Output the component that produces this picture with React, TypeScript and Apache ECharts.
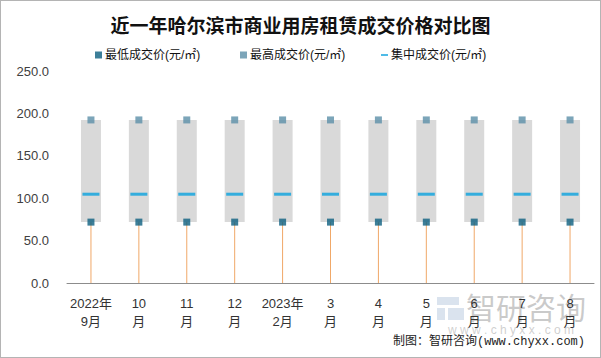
import React, { useEffect, useRef } from "react";
import * as echarts from "echarts";

const categories = ["2022年\n9月", "10\n月", "11\n月", "12\n月", "2023年\n2月", "3\n月", "4\n月", "5\n月", "6\n月", "7\n月", "8\n月"];
const minPrice = [71.8, 71.8, 71.8, 71.8, 71.8, 71.8, 71.8, 71.8, 71.8, 71.8, 71.8];
const maxPrice = [192.3, 192.3, 192.3, 192.3, 192.3, 192.3, 192.3, 192.3, 192.3, 192.3, 192.3];
const midPrice = [104.7, 104.7, 104.7, 104.7, 104.7, 104.7, 104.7, 104.7, 104.7, 104.7, 104.7];
const yTicks = [0, 50, 100, 150, 200, 250];

const NAME_MIN = "最低成交价(元/㎡)";
const NAME_MAX = "最高成交价(元/㎡)";
const NAME_MID = "集中成交价(元/㎡)";

const SANS = "'Liberation Sans', 'Noto Sans CJK SC', sans-serif";

export default function App() {
  const ref = useRef<HTMLDivElement>(null);
  useEffect(() => {
    if (!ref.current) return;
    const chart = echarts.init(ref.current, null, { renderer: "svg" });
    const rangeData = categories.map((_, i) => [i, minPrice[i], maxPrice[i]]);
    const legendBase = {
      top: 43,
      itemWidth: 7,
      itemHeight: 7,
      textStyle: { fontSize: 12, color: "#111", fontFamily: SANS, padding: [0, 0, 0, -2] },
    };
    chart.setOption({
      animation: false,
      backgroundColor: "#ffffff",
      title: {
        text: "近一年哈尔滨市商业用房租赁成交价格对比图",
        left: "center",
        top: 9,
        textStyle: { fontSize: 19, fontWeight: "bold", color: "#111", fontFamily: "'Noto Sans CJK SC', sans-serif" },
      },
      legend: [
        { ...legendBase, left: 89, data: [{ name: NAME_MIN, icon: "rect" }] },
        { ...legendBase, left: 234, data: [{ name: NAME_MAX, icon: "rect" }] },
        { ...legendBase, left: 375, data: [{ name: NAME_MID, icon: "path://M0,0H35V9H0Z" }] },
      ],
      grid: { left: 66, right: 6, top: 70, height: 212, containLabel: false },
      xAxis: {
        type: "category",
        data: categories,
        axisLine: { show: true, lineStyle: { color: "#8c8c8c", width: 1 } },
        axisTick: { show: false },
        axisLabel: { color: "#333", fontSize: 13, lineHeight: 18, margin: 11, fontFamily: SANS, interval: 0 },
      },
      yAxis: {
        type: "value",
        min: yTicks[0],
        max: yTicks[yTicks.length - 1],
        interval: 50,
        axisLine: { show: false },
        axisTick: { show: false },
        splitLine: { show: false },
        axisLabel: {
          color: "#404040",
          fontSize: 13,
          margin: 18,
          fontFamily: SANS,
          formatter: (v: number) => v.toFixed(1),
        },
      },
      series: [
        {
          type: "custom",
          name: "range",
          data: rangeData,
          encode: { x: 0, y: [1, 2] },
          z: 1,
          renderItem: (params: any, api: any) => {
            const idx = api.value(0);
            const lo = api.coord([idx, api.value(1)]);
            const hi = api.coord([idx, api.value(2)]);
            const base = api.coord([idx, 0]);
            const w = 20;
            return {
              type: "group",
              children: [
                {
                  type: "line",
                  shape: { x1: base[0], y1: base[1], x2: lo[0], y2: lo[1] },
                  style: { stroke: "#f0a868", lineWidth: 1 },
                },
                {
                  type: "rect",
                  shape: { x: hi[0] - w / 2, y: hi[1], width: w, height: lo[1] - hi[1] },
                  style: { fill: "#d9d9d9" },
                },
              ],
            };
          },
        },
        {
          type: "scatter",
          name: NAME_MIN,
          data: minPrice,
          symbol: "rect",
          symbolSize: 7,
          itemStyle: { color: "#0c5f80" },
          z: 3,
        },
        {
          type: "scatter",
          name: NAME_MAX,
          data: maxPrice,
          symbol: "rect",
          symbolSize: 7,
          itemStyle: { color: "#5b8ea8" },
          z: 3,
        },
        {
          type: "scatter",
          name: NAME_MID,
          data: midPrice,
          symbol: "rect",
          symbolSize: [17, 3],
          itemStyle: { color: "#0aa1dd" },
          z: 3,
        },
      ],
      graphic: [
        {
          type: "rect",
          left: 436,
          top: 296,
          z: 0,
          shape: { width: 22, height: 8 },
          style: { fill: "rgba(150,175,205,0.35)" },
        },
        {
          type: "rect",
          left: 436,
          top: 307,
          z: 0,
          shape: { width: 8, height: 12 },
          style: { fill: "rgba(150,175,205,0.35)" },
        },
        {
          type: "rect",
          left: 447,
          top: 307,
          z: 0,
          shape: { width: 16, height: 12 },
          style: { fill: "rgba(150,175,205,0.35)" },
        },
        {
          type: "text",
          left: 465,
          top: 290,
          z: 0,
          style: { text: "智研咨询", fontSize: 30, fill: "rgba(150,150,150,0.5)", fontFamily: "'Noto Sans CJK SC', sans-serif" },
        },
        {
          type: "text",
          left: 447,
          top: 323,
          z: 0,
          style: { text: "w w w . c h y x x . c o m", fontSize: 12, fill: "rgba(160,160,160,0.5)", fontFamily: SANS },
        },
        {
          type: "text",
          right: 15,
          top: 335,
          style: {
            text: "制图：智研咨询(www.chyxx.com)",
            fontSize: 12,
            fill: "#222",
            fontFamily: "'Liberation Mono', 'Noto Sans CJK SC', monospace",
          },
        },
      ],
    });
    return () => chart.dispose();
  }, []);
  return (
    <div
      style={{
        position: "fixed",
        left: 0,
        top: 0,
        width: 601,
        height: 358,
        boxSizing: "border-box",
        border: "1px solid #b4b4b4",
        background: "#fff",
      }}
    >
      <div ref={ref} style={{ width: 599, height: 356 }} />
    </div>
  );
}
